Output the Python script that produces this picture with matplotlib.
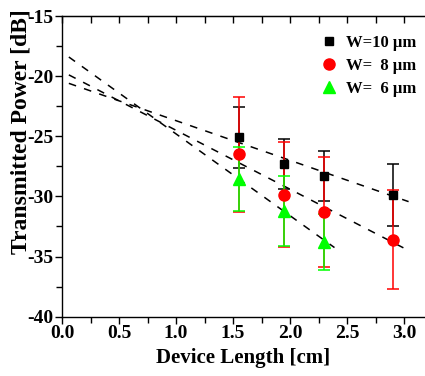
import matplotlib
matplotlib.use("Agg")
import matplotlib.pyplot as plt
import numpy as np
from matplotlib.ticker import MultipleLocator

plt.rcParams['font.family'] = ['Liberation Serif', 'DejaVu Serif']
plt.rcParams['font.weight'] = 'bold'

# measured transmitted power vs device length
len_10 = [1.55, 1.95, 2.30, 2.90]
pw_10 = [-25.1, -27.3, -28.3, -29.9]
err_10 = [2.5, 2.1, 2.05, 2.6]

len_8 = [1.55, 1.95, 2.30, 2.90]
pw_8 = [-26.5, -29.85, -31.3, -33.6]
err_8 = [4.8, 4.35, 4.6, 4.1]

len_6 = [1.55, 1.95, 2.30]
pw_6 = [-28.55, -31.2, -33.8]
err_6 = [2.65, 2.9, 2.3]

# linear fits (intercept at L=0, slope dB/cm) and drawn ranges
fit_icpt = [-20.4, -19.6, -18.0]
fit_slope = [-3.3, -4.9, -6.8]
fit_start = [0.06, 0.06, 0.06]
fit_end = [3.04, 3.05, 2.39]

labels = ['W=10 \u03bcm', 'W=  8 \u03bcm', 'W=  6 \u03bcm']

fig = plt.figure(figsize=(4.25, 3.76), dpi=100)
ax = fig.add_axes([0.1459, 0.1577, 0.8541, 0.7997])

for a, b, x0, x1 in zip(fit_icpt, fit_slope, fit_start, fit_end):
    xx = np.array([x0, x1])
    ax.plot(xx, a + b * xx, color='black', lw=1.1, dashes=(5, 5.5), zorder=1)

series = [(len_10, pw_10, err_10, 's', '#000000', 6),
          (len_8, pw_8, err_8, 'o', '#ff0000', 8),
          (len_6, pw_6, err_6, '^', '#00ff00', 8.5)]
handles = []
for (x, y, e, m, c, ms), lab in zip(series, labels):
    cont = ax.errorbar(x, y, yerr=e, fmt=m, color=c, ms=ms, mec=c, ecolor=c,
                       elinewidth=1.1, capsize=4.5, capthick=1.1, label=lab, zorder=3)
    handles.append(cont[0])

ax.set_xlim(0, 3.184)
ax.set_ylim(-40, -15)
ax.xaxis.set_major_locator(MultipleLocator(0.5))
ax.xaxis.set_minor_locator(MultipleLocator(0.25))
ax.yaxis.set_major_locator(MultipleLocator(5))
ax.yaxis.set_minor_locator(MultipleLocator(2.5))
ax.xaxis.set_major_formatter(matplotlib.ticker.FormatStrFormatter('%.1f'))
ax.yaxis.set_major_formatter(matplotlib.ticker.FuncFormatter(lambda v, p: '%d' % v))

ax.spines['right'].set_visible(False)
for s in ['left', 'bottom', 'top']:
    ax.spines[s].set_linewidth(1.0)
ax.tick_params(which='both', direction='out', width=1.0, labelsize=14)
ax.tick_params(which='major', length=5, pad=1)
ax.tick_params(which='minor', length=4)

top = ax.secondary_xaxis('top')
top.xaxis.set_major_locator(MultipleLocator(0.5))
top.xaxis.set_minor_locator(MultipleLocator(0.25))
top.tick_params(which='both', direction='in', width=1.0, length=5, labeltop=False)

ax.set_xlabel('Device Length [cm]', fontsize=15, fontweight='bold', labelpad=4)
fig.text(0.05, 0.65, 'Transmitted Power [dB]', rotation=90, fontsize=17,
         fontweight='bold', ha='center', va='center')

ax.legend(handles, labels, loc='upper right', frameon=False, fontsize=12,
          handletextpad=0.5, labelspacing=0.42, borderaxespad=0.9,
          handlelength=1.0, bbox_to_anchor=(1.035, 1.01))

fig.savefig('out.png', dpi=100)
